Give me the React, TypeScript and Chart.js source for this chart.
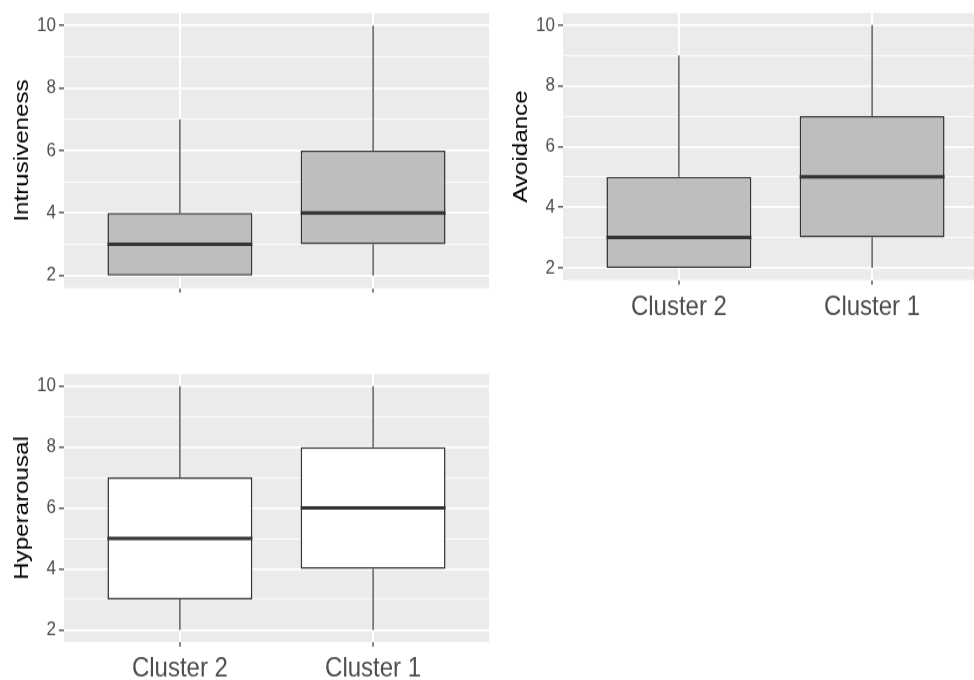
import React, { useEffect, useRef } from 'react';
import { Chart, registerables } from 'chart.js';

Chart.register(...registerables);

// ---------- data ----------
const CATEGORIES = ['Cluster 2', 'Cluster 1'];
const Y_MAJOR = [2, 4, 6, 8, 10];
const Y_MINOR = [3, 5, 7, 9];
const Y_MIN = 1.6;
const Y_MAX = 10.4;

const INTR_MIN = [2, 2];
const INTR_Q1 = [2, 3];
const INTR_MED = [3, 4];
const INTR_Q3 = [4, 6];
const INTR_MAX = [7, 10];

const AVOID_MIN = [2, 2];
const AVOID_Q1 = [2, 3];
const AVOID_MED = [3, 5];
const AVOID_Q3 = [5, 7];
const AVOID_MAX = [9, 10];

const HYPER_MIN = [2, 2];
const HYPER_Q1 = [3, 4];
const HYPER_MED = [5, 6];
const HYPER_Q3 = [7, 8];
const HYPER_MAX = [10, 10];

// ---------- styling ----------
const FONT = "'Liberation Sans', Arial, Helvetica, sans-serif";
const S = 1.15; // vertical stretch of the reference picture
const BOX = 0.75; // box width in category units
const X_EXPAND = 0.6;
const PANEL_BG = '#EBEBEB';
const INK = '#333333';
const TICK_TXT = '#4D4D4D';

type PanelProps = {
  left: number; top: number; width: number; height: number;
  plotLeft: number; plotRight: number; plotTop: number; plotBottom: number;
  showXLabels: boolean; fill: string; title: string;
  mins: number[]; q1: number[]; med: number[]; q3: number[]; maxs: number[];
};

const bgPlugin = {
  id: 'panelBg',
  beforeDraw(chart: any) {
    const { ctx, chartArea } = chart;
    if (!chartArea) return;
    ctx.save();
    ctx.fillStyle = PANEL_BG;
    ctx.fillRect(chartArea.left, chartArea.top, chartArea.right - chartArea.left, chartArea.bottom - chartArea.top);
    ctx.restore();
  },
};

const zeroPad = (scale: any) => {
  scale.paddingTop = 0;
  scale.paddingBottom = 0;
  scale.paddingLeft = 0;
  scale.paddingRight = 0;
};

function Panel(p: PanelProps) {
  const ref = useRef<HTMLCanvasElement>(null);
  const Hb = Math.round(p.height / S);
  const sy = p.height / Hb;

  useEffect(() => {
    if (!ref.current) return;
    const padTop = (p.plotTop - p.top) / sy;
    const plotBottomC = (p.plotBottom - p.top) / sy;
    const xAxisH = Hb - plotBottomC;
    const yAxisW = p.plotLeft - p.left;
    const padRight = p.left + p.width - p.plotRight;

    const xs = CATEGORIES.map((_, i) => i + 1);
    const boxData = xs.map((x, i) => ({ x, y: [p.q1[i], p.q3[i]] }));
    const whiskers: any[] = [];
    xs.forEach((x, i) => {
      whiskers.push({ x, y: p.q3[i] }, { x, y: p.maxs[i] }, { x, y: null });
      whiskers.push({ x, y: p.q1[i] }, { x, y: p.mins[i] }, { x, y: null });
    });
    const medians: any[] = [];
    xs.forEach((x, i) => {
      medians.push({ x: x - BOX / 2, y: p.med[i] }, { x: x + BOX / 2, y: p.med[i] }, { x, y: null });
    });

    const isMajor = (v: number) => Y_MAJOR.includes(v);

    const chart = new Chart(ref.current, {
      type: 'bar',
      data: {
        datasets: [
          {
            type: 'line', data: medians, borderColor: INK, borderWidth: 3,
            pointRadius: 0, spanGaps: false, order: 0, borderCapStyle: 'butt',
          } as any,
          {
            type: 'line', data: whiskers, borderColor: INK, borderWidth: 1.2,
            pointRadius: 0, spanGaps: false, order: 1,
          } as any,
          {
            type: 'bar', data: boxData as any, backgroundColor: p.fill, borderColor: INK,
            borderWidth: 1.5, borderSkipped: false, categoryPercentage: 1, barPercentage: BOX,
            order: 2,
          } as any,
        ],
      },
      options: {
        responsive: false,
        animation: false,
        devicePixelRatio: 1,
        layout: { padding: { left: 0, right: padRight, top: padTop, bottom: 0 } },
        plugins: { legend: { display: false }, tooltip: { enabled: false } },
        scales: {
          x: {
            type: 'linear',
            min: 1 - X_EXPAND,
            max: CATEGORIES.length + X_EXPAND,
            offset: false,
            afterBuildTicks: (scale: any) => { scale.ticks = xs.map((v) => ({ value: v })); },
            afterFit: (scale: any) => { scale.height = xAxisH; zeroPad(scale); },
            border: { display: false },
            grid: { offset: false, color: '#FFFFFF', lineWidth: 2, tickColor: INK, tickLength: 4, tickWidth: 1.2 },
            ticks: {
              display: p.showXLabels,
              padding: 5,
              color: TICK_TXT,
              font: { family: FONT, size: 24 },
              callback: (v: any) => CATEGORIES[Math.round(Number(v)) - 1] ?? '',
              maxRotation: 0,
              autoSkip: false,
            },
          },
          y: {
            type: 'linear',
            min: Y_MIN,
            max: Y_MAX,
            afterBuildTicks: (scale: any) => {
              scale.ticks = [...Y_MAJOR, ...Y_MINOR].sort((a, b) => a - b).map((v) => ({ value: v }));
            },
            afterFit: (scale: any) => { scale.width = yAxisW; zeroPad(scale); },
            border: { display: false },
            grid: {
              color: '#FFFFFF',
              lineWidth: (c: any) => (c.tick && isMajor(c.tick.value) ? 1.7 : 0.9),
              tickColor: (c: any) => (c.tick && isMajor(c.tick.value) ? INK : 'rgba(0,0,0,0)'),
              tickLength: 5,
              tickWidth: 1.2,
            },
            ticks: {
              padding: 3,
              color: TICK_TXT,
              font: { family: FONT, size: 17 },
              autoSkip: false,
              callback: (v: any) => (isMajor(Number(v)) ? String(v) : ''),
            },
            title: {
              display: true,
              text: p.title,
              color: '#000000',
              font: { family: FONT, size: 21 },
              padding: { top: 10, bottom: 0 },
            },
          },
        },
      } as any,
      plugins: [bgPlugin],
    });
    return () => chart.destroy();
  }, []);

  return (
    <canvas
      ref={ref}
      width={p.width}
      height={Hb}
      style={{ position: 'absolute', left: p.left, top: p.top, width: p.width + 'px', height: p.height + 'px' }}
    />
  );
}

export default function App() {
  return (
    <div style={{ position: 'absolute', left: 0, top: 0, width: 974, height: 680, background: '#FFFFFF', overflow: 'hidden' }}>
      <Panel
        left={0} top={0} width={495} height={300}
        plotLeft={64} plotRight={489} plotTop={13} plotBottom={288}
        showXLabels={false} fill="#BEBEBE" title="Intrusiveness"
        mins={INTR_MIN} q1={INTR_Q1} med={INTR_MED} q3={INTR_Q3} maxs={INTR_MAX}
      />
      <Panel
        left={499} top={0} width={495} height={330}
        plotLeft={563} plotRight={988} plotTop={13} plotBottom={280}
        showXLabels={true} fill="#BEBEBE" title="Avoidance"
        mins={AVOID_MIN} q1={AVOID_Q1} med={AVOID_MED} q3={AVOID_Q3} maxs={AVOID_MAX}
      />
      <Panel
        left={0} top={360} width={495} height={320}
        plotLeft={64} plotRight={489} plotTop={374} plotBottom={642}
        showXLabels={true} fill="#FFFFFF" title="Hyperarousal"
        mins={HYPER_MIN} q1={HYPER_Q1} med={HYPER_MED} q3={HYPER_Q3} maxs={HYPER_MAX}
      />
    </div>
  );
}
